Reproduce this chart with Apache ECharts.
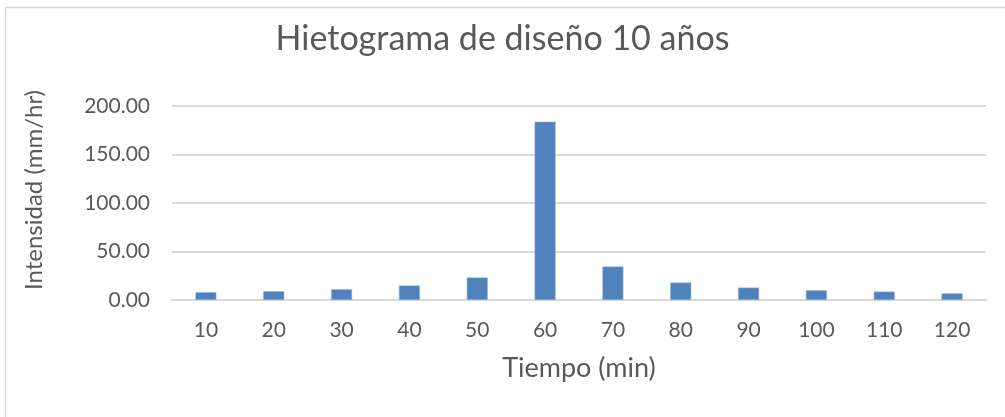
<!DOCTYPE html>
<html>
<head>
<meta charset="utf-8">
<script src="https://cdn.jsdelivr.net/npm/echarts@6/dist/echarts.min.js"></script>
<style>
  html, body { margin: 0; padding: 0; background: #fff; }
  #chart { width: 1005px; height: 417px; }
</style>
</head>
<body>
<div id="chart"></div>
<script>
// Design hyetograph, 10-year return period
const chartTitle = 'Hietograma de diseño 10 años';
const timeMinutes = ['10', '20', '30', '40', '50', '60', '70', '80', '90', '100', '110', '120'];
const intensity = [8.0, 9.0, 11.1, 14.9, 23.2, 183.8, 34.5, 18.0, 12.8, 10.0, 8.7, 6.9];
const yTicks = { min: 0, max: 200, step: 50 };

const FONT = 'Lato';
const TEXT = '#595959';
const GRID = '#d9d9d9';

const chart = echarts.init(document.getElementById('chart'), null, { renderer: 'canvas' });
chart.setOption({
  backgroundColor: '#ffffff',
  animation: false,
  textStyle: { fontFamily: FONT },
  title: {
    text: chartTitle,
    left: 'center',
    top: 17,
    textStyle: { fontFamily: FONT, fontSize: 34, fontWeight: 'normal', color: TEXT }
  },
  graphic: [{
    type: 'rect',
    silent: true,
    shape: { x: 5.5, y: 7.5, width: 1010, height: 420 },
    style: { fill: 'none', stroke: GRID, lineWidth: 1.5 }
  }],
  grid: { left: 172, right: 19, top: 106, bottom: 117 },
  xAxis: {
    type: 'category',
    data: timeMinutes,
    name: 'Tiempo (min)',
    nameLocation: 'middle',
    nameGap: 55,
    nameTextStyle: { fontFamily: FONT, fontSize: 27, color: TEXT },
    axisLine: { lineStyle: { color: GRID, width: 2 } },
    axisTick: { show: false },
    axisLabel: { fontFamily: FONT, fontSize: 21, color: TEXT, margin: 20 }
  },
  yAxis: {
    type: 'value',
    min: yTicks.min,
    max: yTicks.max,
    interval: yTicks.step,
    name: 'Intensidad (mm/hr)',
    nameLocation: 'middle',
    nameGap: 126,
    nameTextStyle: { fontFamily: FONT, fontSize: 24, color: TEXT, padding: [0, 0, 0, 26] },
    axisLine: { show: false },
    axisTick: { show: false },
    axisLabel: {
      fontFamily: FONT, fontSize: 21, color: TEXT, margin: 22,
      formatter: v => v.toFixed(2)
    },
    splitLine: { lineStyle: { color: GRID, width: 2 } }
  },
  series: [{
    type: 'bar',
    data: intensity,
    barWidth: 21,
    itemStyle: { color: '#4f81bd', borderColor: '#8fb0d9', borderWidth: 0.6 }
  }]
});
</script>
</body>
</html>
